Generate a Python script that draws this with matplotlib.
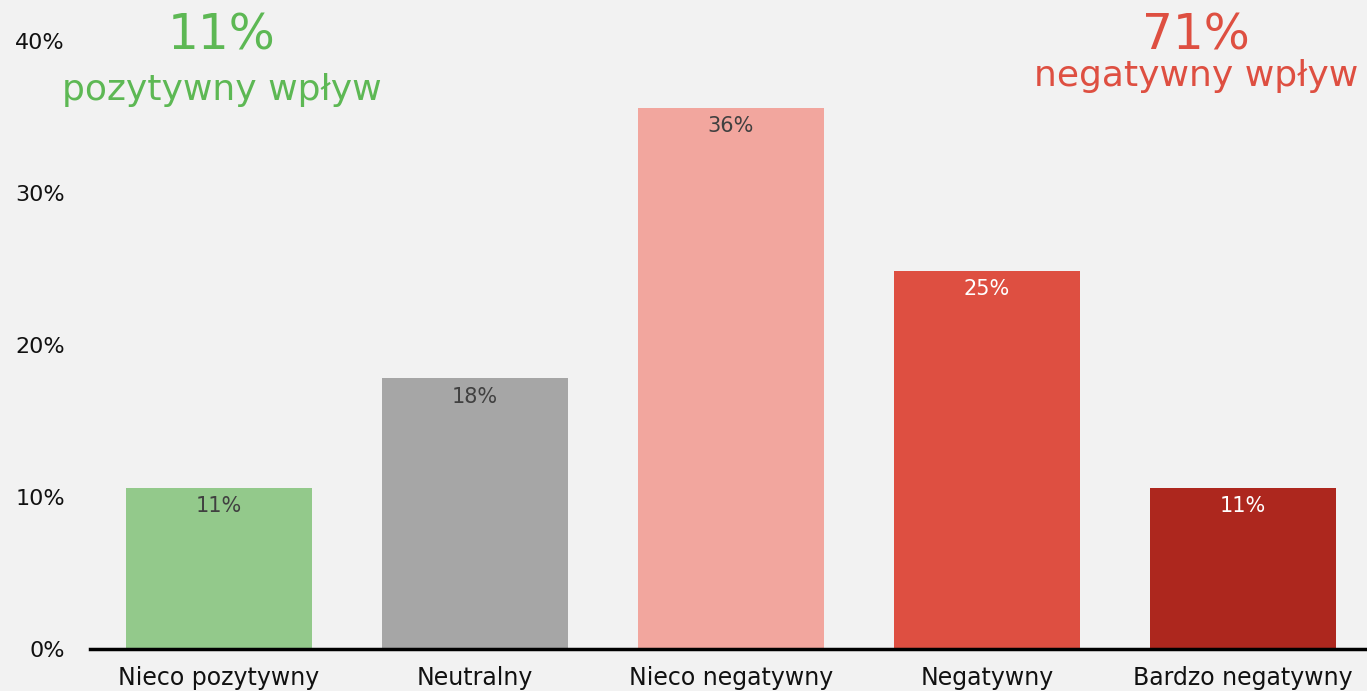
import numpy as np
import matplotlib.pyplot as plt

# Data
categories = ['Nieco pozytywny', 'Neutralny', 'Nieco negatywny', 'Negatywny', 'Bardzo negatywny']
values = [10.6, 17.8, 35.6, 24.9, 10.6]
labels = ['11%', '18%', '36%', '25%', '11%']
bar_colors = ['#93c98b', '#a6a6a6', '#f2a69e', '#de4f41', '#ad271e']
label_colors = ['#404040', '#404040', '#404040', '#ffffff', '#ffffff']
yticks = [0, 10, 20, 30, 40]
ytick_labels = ['0%', '10%', '20%', '30%', '40%']

positive_total = '11%'
negative_total = '71%'

plt.rcParams['font.family'] = ['DejaVu Sans']

bg = '#f2f2f2'
fig = plt.figure(figsize=(13.67, 6.91), dpi=100, facecolor=bg)
ax = fig.add_axes([0.0658, 0.0608, 0.9342, 0.8799], facecolor=bg)

x = np.arange(len(categories))
bars = ax.bar(x, values, width=0.727, color=bar_colors)

for xi, v, lab, c in zip(x, values, labels, label_colors):
    ax.annotate(lab, (xi, v), xytext=(0, -6), textcoords='offset points',
                ha='center', va='top', fontsize=15, color=c)

ax.set_xlim(-0.504, 4.484)
ax.set_ylim(0, 40)
ax.set_xticks(x)
ax.set_xticklabels(categories, fontsize=17, color='#111111')
ax.set_yticks(yticks)
ax.set_yticklabels(ytick_labels, fontsize=16, color='#111111')
ax.tick_params(length=0)
ax.tick_params(axis='x', pad=12)
ax.tick_params(axis='y', pad=18)

for side in ['top', 'right', 'left']:
    ax.spines[side].set_visible(False)
ax.spines['bottom'].set_linewidth(2.5)
ax.spines['bottom'].set_color('#000000')

# Summary annotations
fig.text(222 / 1367, 1 - 50 / 691, positive_total, ha='center', va='baseline',
         fontsize=35, color='#5db854')
fig.text(222 / 1367, 1 - 100 / 691, 'pozytywny wpływ', ha='center', va='baseline',
         fontsize=26, color='#5db854')
fig.text(1196 / 1367, 1 - 50 / 691, negative_total, ha='center', va='baseline',
         fontsize=35, color='#de4f41')
fig.text(1196 / 1367, 1 - 86 / 691, 'negatywny wpływ', ha='center', va='baseline',
         fontsize=26, color='#de4f41')

fig.savefig('out.png', dpi=100, facecolor=bg)
